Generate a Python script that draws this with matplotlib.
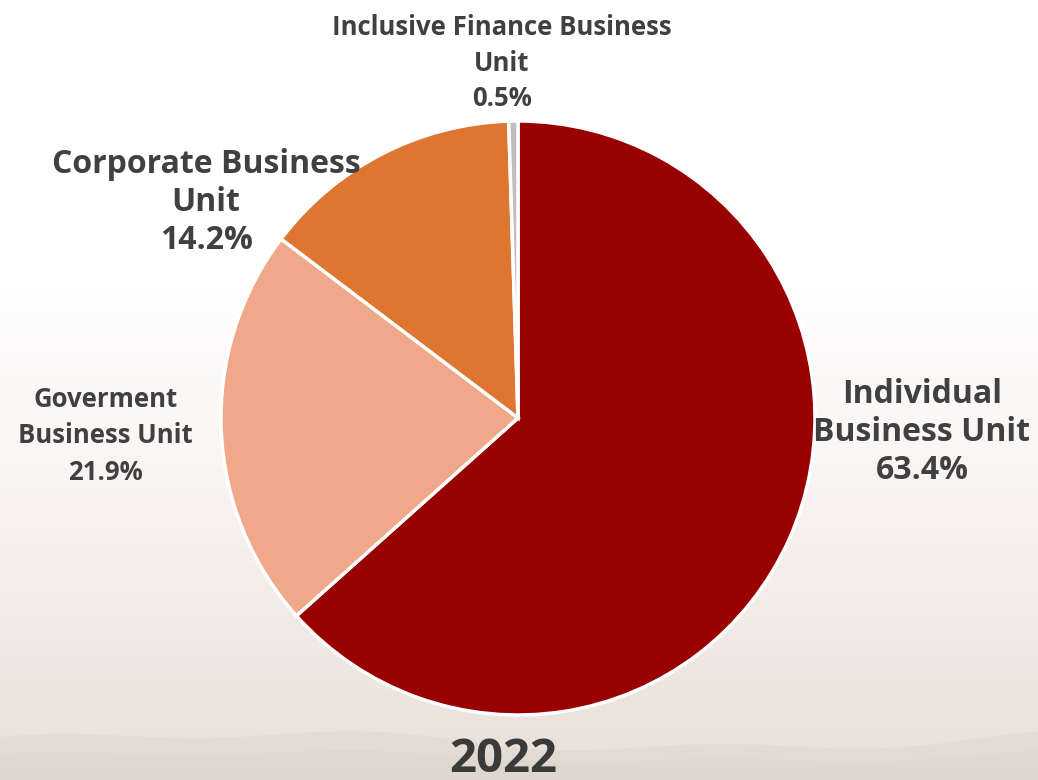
import numpy as np
import matplotlib
matplotlib.use('Agg')
import matplotlib.pyplot as plt
from matplotlib.colors import LinearSegmentedColormap

plt.rcParams['font.family'] = ['Open Sans', 'DejaVu Sans']

units = ['Individual\nBusiness Unit', 'Goverment\nBusiness Unit',
         'Corporate Business\nUnit', 'Inclusive Finance Business\nUnit']
shares = [63.4, 21.9, 14.2, 0.5]
colors = ['#990000', '#F0A88A', '#DE7530', '#BFBFBF']
year = '2022'

# label placement (pie radius units), font size and line spacing per slice
label_pos = [(1.36, -0.05), (-1.39, -0.06), (-1.05, 0.725), (-0.055, 1.195)]
label_size = [23, 18.5, 23, 18.5]
label_ls = [1.2, 1.45, 1.2, 1.4]

W, H = 1038, 780
fig = plt.figure(figsize=(W / 100, H / 100), dpi=100)

# soft background: white at top fading into a warm haze
bg = fig.add_axes([0, 0, 1, 1])
bg.axis('off')
cmap = LinearSegmentedColormap.from_list(
    'haze', [(0.0, '#FFFFFF'), (0.35, '#FFFFFF'), (0.65, '#F8F3F1'),
             (0.85, '#F0E7E2'), (1.0, '#E9DFD6')])
grad = np.linspace(0, 1, 256)[:, None] * np.ones((1, 2))
bg.imshow(grad, aspect='auto', cmap=cmap, extent=[0, 1, 0, 1], origin='upper')
# faint hills along the bottom edge
xs = np.linspace(0, 1, 200)
hill = 0.05 + 0.01 * np.sin(xs * 7.0) + 0.006 * np.sin(xs * 19.0 + 1.0)
bg.fill_between(xs, 0, hill, color='#D8D3CA', alpha=0.35, lw=0)
bg.fill_between(xs, 0, hill * 0.6, color='#D8D3CA', alpha=0.3, lw=0)
bg.set_xlim(0, 1)
bg.set_ylim(0, 1)

cx, cy, r = 518, 418, 297
ax = fig.add_axes([(cx - r) / W, (H - cy - r) / H, 2 * r / W, 2 * r / H])
ax.pie(shares, colors=colors, startangle=90, counterclock=False,
       wedgeprops=dict(edgecolor='white', linewidth=2.5))
ax.set_xlim(-1, 1)
ax.set_ylim(-1, 1)
ax.set_aspect('equal')
ax.axis('off')

for name, val, (lx, ly), fs, ls in zip(units, shares, label_pos, label_size, label_ls):
    ax.text(lx, ly, f'{name}\n{val}%', ha='center', va='center',
            fontsize=fs, fontweight='bold', color='#404040',
            linespacing=ls, clip_on=False)

fig.text(503 / W, 1 - 760 / H, year, ha='center', va='center',
         fontsize=34, fontweight='bold', color='#3A3A3A')

fig.savefig('out.png', dpi=100)
